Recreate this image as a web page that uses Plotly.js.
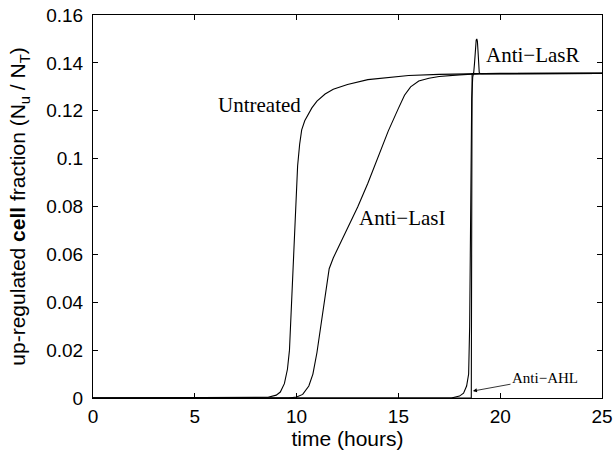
<!DOCTYPE html>
<html>
<head>
<meta charset="utf-8">
<script src="https://cdn.plot.ly/plotly-3.0.1.min.js"></script>
<style>html,body{margin:0;padding:0;background:#fff;}#chart{width:614px;height:456px;}</style>
</head>
<body>
<div id="chart"></div>
<script>
// Data
const untreatedT = [0, 8.0, 8.6, 9.0, 9.2, 9.4, 9.55, 9.65, 9.75, 9.85, 9.95, 10.05, 10.15, 10.25, 10.4, 10.55, 10.75, 11.0, 11.4, 11.8, 12.5, 13.5, 14.5, 15.5, 17.0, 18.6, 20.0, 25.0];
const untreatedV = [0, 0, 0.0003, 0.0012, 0.0025, 0.006, 0.012, 0.02, 0.04, 0.062, 0.082, 0.097, 0.106, 0.112, 0.1158, 0.118, 0.1212, 0.124, 0.127, 0.129, 0.131, 0.133, 0.134, 0.1347, 0.1352, 0.1355, 0.1356, 0.1356];

const antiLasIT = [0, 9.6, 10.0, 10.3, 10.6, 10.8, 11.0, 11.15, 11.3, 11.45, 11.6, 11.8, 12.0, 12.5, 13.0, 13.5, 14.0, 14.5, 15.0, 15.3, 15.6, 16.0, 16.5, 17.0, 18.0, 19.0, 25.0];
const antiLasIV = [0, 0, 0.0004, 0.0015, 0.005, 0.01, 0.019, 0.028, 0.038, 0.047, 0.054, 0.0585, 0.062, 0.0705, 0.0798, 0.0897, 0.101, 0.1115, 0.121, 0.1265, 0.13, 0.1324, 0.1336, 0.1343, 0.135, 0.1355, 0.1356];

const antiLasRT = [0, 17.6, 18.0, 18.2, 18.35, 18.45, 18.5, 18.55, 18.6, 18.65, 18.7, 18.74, 18.78, 18.82, 18.85, 18.88, 18.91, 18.94, 18.97, 19.0, 19.1, 25.0];
const antiLasRV = [0, 0, 0.0008, 0.002, 0.005, 0.01, 0.03, 0.08, 0.125, 0.134, 0.136, 0.140, 0.146, 0.1495, 0.150, 0.149, 0.145, 0.139, 0.136, 0.1356, 0.1355, 0.1356];

const antiAHLT = [0, 18.58, 18.6, 18.62, 25.0];
const antiAHLV = [0, 0, 0.07, 0.1355, 0.1356];

const xTicks = [0, 5, 10, 15, 20, 25];
const yTicks = [0, 0.02, 0.04, 0.06, 0.08, 0.1, 0.12, 0.14, 0.16];
const yTickText = ['0', '0.02', '0.04', '0.06', '0.08', '0.1', '0.12', '0.14', '0.16'];

const names = ['Untreated', 'Anti\u2212LasI', 'Anti\u2212LasR', 'Anti\u2212AHL'];
const seriesT = [untreatedT, antiLasIT, antiLasRT, antiAHLT];
const seriesV = [untreatedV, antiLasIV, antiLasRV, antiAHLV];

const traces = seriesT.map((t, i) => ({
  x: t, y: seriesV[i], name: names[i], type: 'scatter', mode: 'lines',
  line: {color: '#000', width: 1.1}, hoverinfo: 'skip'
}));

const serif = {family: 'Liberation Serif, Times New Roman, serif', size: 21, color: '#000'};

const layout = {
  width: 614, height: 456,
  margin: {l: 93, r: 12, t: 15, b: 58},
  paper_bgcolor: '#fff', plot_bgcolor: '#fff',
  showlegend: false,
  font: {family: 'Liberation Sans, Arial, sans-serif', size: 19, color: '#000'},
  xaxis: {
    range: [0, 25], tickvals: xTicks, ticktext: xTicks.map(String),
    ticks: 'inside', ticklen: 5, tickcolor: '#000', mirror: 'ticks',
    showline: true, linecolor: '#000', linewidth: 1, showgrid: false, zeroline: false,
    tickfont: {size: 19}, ticklabelstandoff: 1,
    title: {text: 'time (hours)', font: {size: 21}, standoff: 4}
  },
  yaxis: {
    range: [0, 0.16], tickvals: yTicks, ticktext: yTickText,
    ticks: 'inside', ticklen: 5, tickcolor: '#000', mirror: 'ticks',
    showline: true, linecolor: '#000', linewidth: 1, showgrid: false, zeroline: false,
    tickfont: {size: 19}, ticklabelstandoff: 5,
    title: {text: 'up-regulated <b>cell</b> fraction (N<sub>u</sub> / N<sub>T</sub>)', font: {size: 21}, standoff: 14}
  },
  annotations: [
    {x: 10.3, y: 0.1224, xref: 'x', yref: 'y', text: names[0], showarrow: false, xanchor: 'right', yanchor: 'middle', font: serif},
    {x: 12.95, y: 0.0752, xref: 'x', yref: 'y', text: names[1], showarrow: false, xanchor: 'left', yanchor: 'middle', font: serif},
    {x: 19.2, y: 0.1433, xref: 'x', yref: 'y', text: names[2], showarrow: false, xanchor: 'left', yanchor: 'middle', font: serif},
    {x: 18.66, y: 0.0029, xref: 'x', yref: 'y', ax: 22.2, ay: 0.0084, axref: 'x', ayref: 'y',
     text: names[3], showarrow: true, arrowhead: 2, arrowsize: 1, arrowwidth: 0.8, arrowcolor: '#000', standoff: 0,
     font: {family: 'Liberation Serif, Times New Roman, serif', size: 15, color: '#000'}}
  ]
};

Plotly.newPlot('chart', traces, layout, {staticPlot: true, displayModeBar: false});
</script>
</body>
</html>
